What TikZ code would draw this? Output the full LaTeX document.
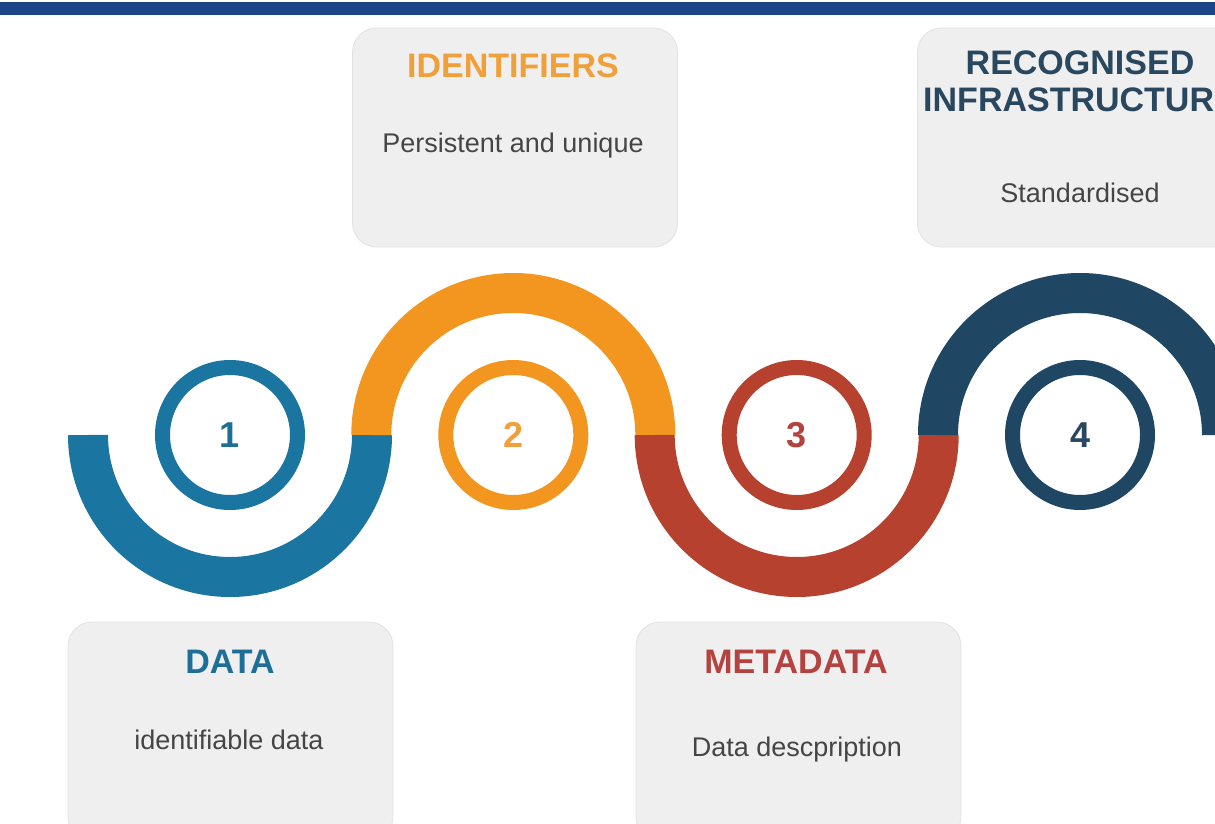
\documentclass[tikz,border=0pt]{standalone}
\usepackage{fontspec}
\setmainfont{Liberation Sans}
\definecolor{topbar}{HTML}{1C4587}
\definecolor{cardgray}{HTML}{EFEFEF}
\definecolor{cardline}{HTML}{E2E2E2}
\definecolor{bodygray}{HTML}{454545}
\definecolor{stepblue}{HTML}{1B75A1}
\definecolor{steporange}{HTML}{F2961F}
\definecolor{stepred}{HTML}{B7412F}
\definecolor{stepnavy}{HTML}{1F4663}
\definecolor{headblue}{HTML}{1E6F98}
\definecolor{headorange}{HTML}{F0A03A}
\definecolor{headred}{HTML}{B4423E}
\definecolor{headnavy}{HTML}{2A4760}

\begin{document}
\begin{tikzpicture}[x=1pt,y=-1pt]
\tikzstyle{every node}+=[inner sep=0pt]
\tikzstyle{card}=[draw=cardline, line width=0.8pt, fill=cardgray, rounded corners=24pt, minimum width=325pt, minimum height=219pt]
\tikzstyle{ring}=[circle, line width=15pt, minimum size=135pt, fill=white, font=\fontsize{36}{40}\selectfont\bfseries]
\tikzstyle{wave}=[line width=40pt]
\tikzstyle{head}=[anchor=base, font=\fontsize{34}{37}\selectfont\bfseries]
\tikzstyle{body}=[anchor=base, text=bodygray, font=\fontsize{27}{30}\selectfont]
\useasboundingbox (0,0) rectangle (1215,824);
\clip (0,0) rectangle (1215,824);
\fill [topbar] (0,2) rectangle (1215,15);
\node [card] (cardid) at (515,137.5) {};
\node [card] (cardinfra) at (1080,137.5) {};
\node [card] (carddata) at (230.5,731.5) {};
\node [card] (cardmeta) at (798.5,731.5) {};
\node [ring, draw=stepblue, text=headblue] (n1) at (230,435) {1};
\node [ring, draw=steporange, text=headorange] (n2) at (513.3,435) {2};
\node [ring, draw=stepred, text=headred] (n3) at (796.7,435) {3};
\node [ring, draw=stepnavy, text=headnavy] (n4) at (1080,435) {4};
\draw [wave, stepblue] (n1.center) ++(-142,0) arc (180:0:142);
\draw [wave, steporange] (n2.center) ++(-142,0) arc (180:360:142);
\draw [wave, stepred] (n3.center) ++(-142,0) arc (180:0:142);
\draw [wave, stepnavy] (n4.center) ++(-142,0) arc (180:360:142);
\node [head, text=headorange] (titleid) at (513,78) {IDENTIFIERS};
\node [body] (textid) at (513,153) {Persistent and unique};
\node [head, text=headnavy, anchor=north, align=center] (titleinfra) at (1080,51) {RECOGNISED\\INFRASTRUCTURE};
\node [body] (textinfra) at (1080,202) {Standardised};
\node [head, text=headblue] (titledata) at (230,673) {DATA};
\node [body] (textdata) at (229,749) {identifiable data};
\node [head, text=headred] (titlemeta) at (796,673) {METADATA};
\node [body] (textmeta) at (797,756) {Data descpription};
\end{tikzpicture}
\end{document}
